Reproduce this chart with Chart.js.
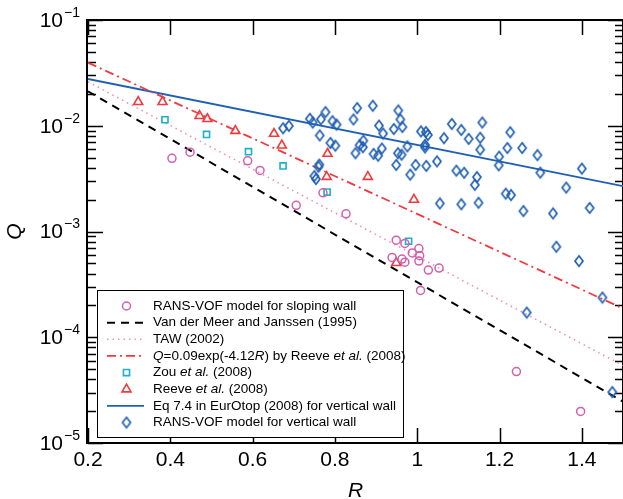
<!DOCTYPE html>
<html>
<head>
<meta charset="utf-8">
<script src="https://cdn.jsdelivr.net/npm/chart.js@4.4.0/dist/chart.umd.min.js"></script>
<style>
  html, body { margin: 0; padding: 0; background: #fff; }
</style>
</head>
<body>
<canvas id="myChart" width="623" height="499"></canvas>
<script>
// RANS-VOF, sloping wall
const slopeR = [0.404, 0.448, 0.588, 0.618, 0.706, 0.771, 0.827, 0.949, 0.970, 1.004, 0.988, 1.006, 0.939, 0.963, 0.970, 1.004, 1.027, 1.053, 1.008, 1.241, 1.397];
const slopeQ = [4.92e-3, 5.62e-3, 4.66e-3, 3.78e-3, 1.77e-3, 2.32e-3, 1.47e-3, 8.28e-4, 7.71e-4, 6.89e-4, 6.27e-4, 5.90e-4, 5.69e-4, 5.48e-4, 5.13e-4, 5.25e-4, 4.32e-4, 4.51e-4, 2.77e-4, 4.74e-5, 1.99e-5];

// Zou et al. (2008)
const zouR = [0.387, 0.488, 0.590, 0.674, 0.781, 0.979];
const zouQ = [1.14e-2, 8.28e-3, 5.69e-3, 4.17e-3, 2.36e-3, 8.09e-4];

// Reeve et al. (2008)
const reeveR = [0.322, 0.381, 0.471, 0.490, 0.558, 0.652, 0.671, 0.782, 0.780, 0.880, 0.992, 0.949];
const reeveQ = [1.68e-2, 1.68e-2, 1.24e-2, 1.16e-2, 8.97e-3, 8.41e-3, 6.52e-3, 5.44e-3, 3.29e-3, 3.29e-3, 2.0e-3, 5.05e-4];

// RANS-VOF, vertical wall
const vertR = [0.674, 0.688, 0.739, 0.746, 0.766, 0.777, 0.794, 0.804, 0.763, 0.789, 0.801, 0.854, 0.845, 0.892, 0.907, 0.917, 0.869, 0.860, 0.868, 0.850,
  0.894, 0.905, 0.914, 0.762, 0.760, 0.750, 0.754, 0.954, 0.959, 0.964, 0.943, 0.953, 0.962, 0.976, 0.949, 0.996, 0.983, 1.009, 1.021, 1.026,
  1.019, 1.019, 1.022, 1.048, 1.065, 1.084, 1.107, 1.125, 1.158, 1.153, 1.153, 1.095, 1.114, 1.145, 1.140, 1.055, 1.107, 1.149, 1.226, 1.199,
  1.198, 1.219, 1.255, 1.292, 1.299, 1.215, 1.228, 1.258, 1.362, 1.400, 1.330, 1.419, 1.338, 1.393, 1.450, 1.266, 1.474];
const vertQ = [9.47e-3, 9.96e-3, 1.164e-2, 1.072e-2, 1.151e-2, 1.346e-2, 1.103e-2, 1.026e-2, 8.10e-3, 6.87e-3, 6.48e-3, 1.469e-2, 1.146e-2, 1.544e-2, 1.004e-2, 8.44e-3, 7.22e-3, 6.55e-3, 6.27e-3, 5.50e-3,
  5.42e-3, 5.21e-3, 6.09e-3, 4.29e-3, 4.10e-3, 3.34e-3, 3.13e-3, 1.394e-2, 1.146e-2, 9.72e-3, 9.31e-3, 5.50e-3, 5.32e-3, 6.38e-3, 4.26e-3, 4.26e-3, 3.45e-3, 8.84e-3, 8.72e-3, 8.19e-3,
  6.58e-3, 6.23e-3, 4.17e-3, 4.60e-3, 7.62e-3, 1.040e-2, 9.11e-3, 7.51e-3, 1.072e-2, 7.70e-3, 5.94e-3, 3.76e-3, 3.59e-3, 3.27e-3, 2.76e-3, 1.84e-3, 1.81e-3, 1.87e-3, 8.68e-3, 5.10e-3,
  4.22e-3, 6.16e-3, 6.16e-3, 5.27e-3, 3.60e-3, 2.28e-3, 2.21e-3, 1.56e-3, 2.60e-3, 3.93e-3, 1.48e-3, 1.67e-3, 7.17e-4, 5.25e-4, 2.37e-4, 1.71e-4, 3.03e-5];

// fitted lines, end points
const lineR = [0.2, 1.5];
const vdmQ = [2.12e-2, 2.46e-5];
const tawQ = [2.6e-2, 5.4e-5];
const reeveLineQ = [3.95e-2, 1.87e-4];
const eurotopQ = [2.77e-2, 2.68e-3];

// axis ticks
const xTicks = [0.2, 0.4, 0.6, 0.8, 1.0, 1.2, 1.4];
const xTickLabels = ['0.2', '0.4', '0.6', '0.8', '1', '1.2', '1.4'];
const yDecades = [1e-1, 1e-2, 1e-3, 1e-4, 1e-5];
const yExponents = ['\u22121', '\u22122', '\u22123', '\u22124', '\u22125'];

// legend: text pieces as [text, italic], in dataset order
const legendText = [
  [['RANS-VOF model for sloping wall', false]],
  [['Van der Meer and Janssen (1995)', false]],
  [['TAW (2002)', false]],
  [['Q', true], ['=0.09exp(-4.12', false], ['R', true], [') by Reeve ', false], ['et al.', true], [' (2008)', false]],
  [['Zou ', false], ['et al.', true], [' (2008)', false]],
  [['Reeve ', false], ['et al.', true], [' (2008)', false]],
  [['Eq 7.4 in EurOtop (2008) for vertical wall', false]],
  [['RANS-VOF model for vertical wall', false]],
];

const FONT = '"Liberation Sans", Arial, Helvetica, sans-serif';
const pts = (xs, ys) => xs.map((x, i) => ({ x: x, y: ys[i] }));

// tall open diamond marker
const diamond = document.createElement('canvas');
diamond.width = 12;
diamond.height = 14;
const dctx = diamond.getContext('2d');
dctx.strokeStyle = '#1f5fb4';
dctx.lineWidth = 1.7;
dctx.beginPath();
dctx.moveTo(6, 1.8);
dctx.lineTo(10, 7);
dctx.lineTo(6, 12.2);
dctx.lineTo(2, 7);
dctx.closePath();
dctx.stroke();

const data = {
  datasets: [
    {
      label: 'RANS-VOF model for sloping wall',
      data: pts(slopeR, slopeQ),
      pointStyle: 'circle', pointRadius: 4, borderWidth: 1.5,
      borderColor: '#d25fae', backgroundColor: 'rgba(0,0,0,0)',
      showLine: false, order: 0,
    },
    {
      label: 'Van der Meer and Janssen (1995)',
      data: pts(lineR, vdmQ),
      showLine: true, pointRadius: 0, borderColor: '#000', borderWidth: 2,
      borderDash: [8, 6], order: 1,
    },
    {
      label: 'TAW (2002)',
      data: pts(lineR, tawQ),
      showLine: true, pointRadius: 0, borderColor: '#f28cb6', borderWidth: 1.6,
      borderDash: [1.5, 4], order: 1,
    },
    {
      label: 'Reeve line',
      data: pts(lineR, reeveLineQ),
      showLine: true, pointRadius: 0, borderColor: '#f23a3e', borderWidth: 1.8,
      borderDash: [9, 4, 2, 4], order: 1,
    },
    {
      label: 'Zou et al. (2008)',
      data: pts(zouR, zouQ),
      pointStyle: 'rect', pointRadius: 4.3, borderWidth: 1.6,
      borderColor: '#19b2c8', backgroundColor: 'rgba(0,0,0,0)',
      showLine: false, order: 0,
    },
    {
      label: 'Reeve et al. (2008)',
      data: pts(reeveR, reeveQ),
      pointStyle: 'triangle', pointRadius: 5.2, borderWidth: 1.6,
      borderColor: '#f23a3e', backgroundColor: 'rgba(0,0,0,0)',
      showLine: false, order: 0,
    },
    {
      label: 'Eq 7.4 in EurOtop (2008) for vertical wall',
      data: pts(lineR, eurotopQ),
      showLine: true, pointRadius: 0, borderColor: '#1f5fb4', borderWidth: 1.8,
      order: 1,
    },
    {
      label: 'RANS-VOF model for vertical wall',
      data: pts(vertR, vertQ),
      pointStyle: diamond, pointRadius: 5,
      borderColor: '#1f5fb4', backgroundColor: 'rgba(0,0,0,0)',
      showLine: false, order: 0,
    },
  ],
};

// frame, inward ticks on all four sides, tick labels and axis titles
const frameAxes = {
  id: 'frameAxes',
  beforeDatasetsDraw(chart) {
    const { ctx, chartArea: a, scales: { x, y } } = chart;
    ctx.save();
    ctx.strokeStyle = '#000';
    ctx.lineWidth = 1.5;
    ctx.beginPath();
    xTicks.forEach((v) => {
      const px = Math.round(x.getPixelForValue(v)) + 0.5;
      ctx.moveTo(px, a.top); ctx.lineTo(px, a.top + 15);
      ctx.moveTo(px, a.bottom); ctx.lineTo(px, a.bottom - 15);
    });
    yDecades.forEach((v) => {
      const py = Math.round(y.getPixelForValue(v)) + 0.5;
      ctx.moveTo(a.left, py); ctx.lineTo(a.left + 15, py);
      ctx.moveTo(a.right, py); ctx.lineTo(a.right - 15, py);
      if (v < 1e-1) {
        for (let k = 2; k <= 9; k++) {
          const pm = Math.round(y.getPixelForValue(v * k)) + 0.5;
          ctx.moveTo(a.left, pm); ctx.lineTo(a.left + 8, pm);
          ctx.moveTo(a.right, pm); ctx.lineTo(a.right - 8, pm);
        }
      }
    });
    ctx.stroke();
    ctx.lineWidth = 2;
    ctx.strokeRect(a.left - 1, a.top, a.right - a.left + 1, a.bottom - a.top);

    ctx.fillStyle = '#000';
    ctx.textBaseline = 'middle';
    ctx.textAlign = 'center';
    ctx.font = '21px ' + FONT;
    xTicks.forEach((v, i) => {
      ctx.fillText(xTickLabels[i], x.getPixelForValue(v), a.bottom + 17);
    });
    ctx.textAlign = 'right';
    yDecades.forEach((v, i) => {
      const py = y.getPixelForValue(v);
      ctx.font = '14px ' + FONT;
      const ew = ctx.measureText(yExponents[i]).width;
      ctx.fillText(yExponents[i], 80, py - 7);
      ctx.font = '21px ' + FONT;
      ctx.fillText('10', 80 - ew - 1, py + 1);
    });

    ctx.font = 'italic 21px ' + FONT;
    ctx.textAlign = 'center';
    ctx.fillText('R', (a.left + a.right) / 2, 491);
    ctx.translate(15, (a.top + a.bottom) / 2);
    ctx.rotate(-Math.PI / 2);
    ctx.fillText('Q', 0, 0);
    ctx.restore();
  },
};

// boxed legend with italic pieces
const boxLegend = {
  id: 'boxLegend',
  afterDraw(chart) {
    const { ctx } = chart;
    const bx = 97, by = 290, bw = 306, bh = 147;
    ctx.save();
    ctx.fillStyle = '#fff';
    ctx.fillRect(bx, by, bw, bh);
    ctx.strokeStyle = '#000';
    ctx.lineWidth = 1;
    ctx.strokeRect(bx + 0.5, by + 0.5, bw, bh);

    chart.data.datasets.forEach((ds, i) => {
      const cy = 306 + i * 16.65;
      ctx.save();
      ctx.strokeStyle = ds.borderColor;
      ctx.fillStyle = 'rgba(0,0,0,0)';
      if (ds.showLine) {
        ctx.lineWidth = ds.borderWidth;
        ctx.setLineDash(ds.borderDash || []);
        ctx.beginPath();
        ctx.moveTo(107, cy);
        ctx.lineTo(144, cy);
        ctx.stroke();
      } else {
        ctx.lineWidth = ds.borderWidth || 1.5;
        Chart.helpers.drawPoint(ctx, {
          pointStyle: ds.pointStyle, radius: ds.pointRadius, rotation: 0,
          borderWidth: ds.borderWidth || 1.5,
        }, 126.5, cy);
      }
      ctx.restore();

      let tx = 153;
      ctx.fillStyle = '#000';
      ctx.textBaseline = 'middle';
      ctx.textAlign = 'left';
      legendText[i].forEach(([t, it]) => {
        ctx.font = (it ? 'italic ' : '') + '13.5px ' + FONT;
        ctx.fillText(t, tx, cy);
        tx += ctx.measureText(t).width;
      });
    });
    ctx.restore();
  },
};

const config = {
  type: 'scatter',
  data: data,
  options: {
    responsive: false,
    animation: false,
    layout: { autoPadding: false, padding: { left: 88, right: 0, top: 20, bottom: 56 } },
    scales: {
      x: { type: 'linear', min: 0.2, max: 1.5, display: false },
      y: { type: 'logarithmic', min: 1e-5, max: 1e-1, display: false },
    },
    plugins: {
      legend: { display: false },
      tooltip: { enabled: false },
    },
  },
  plugins: [frameAxes, boxLegend],
};

const myChart = new Chart(document.getElementById('myChart'), config);
</script>
</body>
</html>
